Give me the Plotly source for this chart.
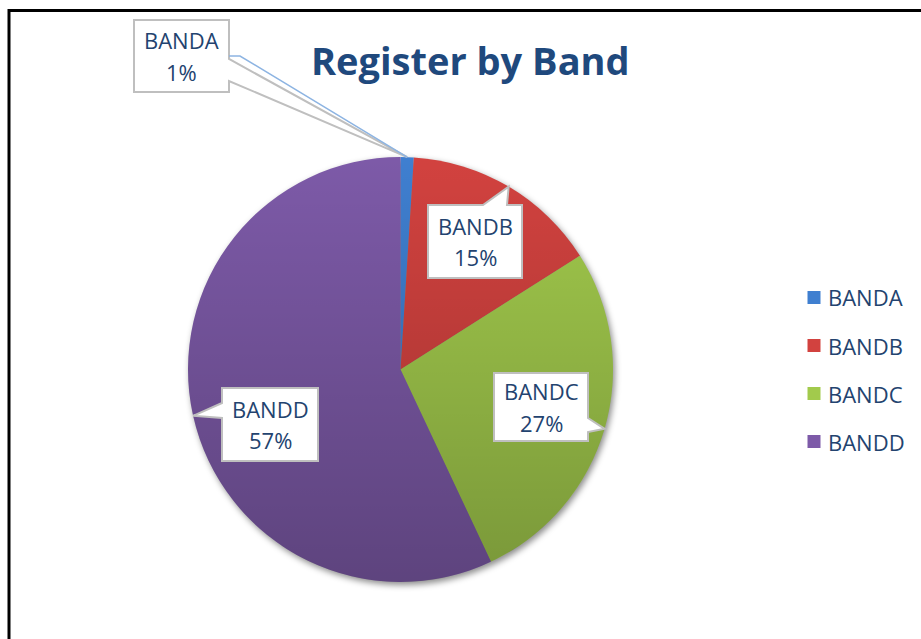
import base64
import math

import plotly.graph_objects as go

# ---- data -------------------------------------------------------------
bands = ["BANDA", "BANDB", "BANDC", "BANDD"]
shares = [1, 15, 27, 57]
slice_colors = ["#3F7FD0", "#D2423F", "#A2CA4C", "#7D5AA8"]
chart_title = "Register by Band"

# ---- canvas / geometry (pixels) ----------------------------------------
W, H = 921, 639
CX, CY, R = 400.5, 369.5, 212.5          # pie centre and radius
TEXT_BLUE = "#23436F"
FONT = "Open Sans"


def fx(x):
    return x / W


def fy(y):
    return 1 - y / H


fig = go.Figure(
    go.Pie(
        labels=bands,
        values=shares,
        sort=False,
        direction="clockwise",
        rotation=0,
        marker=dict(colors=slice_colors, line=dict(width=0)),
        textinfo="none",
        hoverinfo="label+percent",
        showlegend=False,
        domain=dict(x=[fx(CX - R), fx(CX + R)], y=[fy(CY + R), fy(CY - R)]),
    )
)

# ---- soft shadow under the pie and vertical shading over it ------------
PAD = 20
SIZE = 2 * R + 2 * PAD


def svg_uri(svg):
    return "data:image/svg+xml;base64," + base64.b64encode(svg.encode()).decode()


shadow_svg = (
    f'<svg xmlns="http://www.w3.org/2000/svg" width="{SIZE}" height="{SIZE}" '
    f'viewBox="0 0 {SIZE} {SIZE}">'
    '<defs><filter id="b" x="-20%" y="-20%" width="140%" height="140%">'
    '<feGaussianBlur stdDeviation="3"/></filter></defs>'
    f'<circle cx="{PAD + R + 2}" cy="{PAD + R + 3}" r="{R}" fill="#000" '
    'fill-opacity="0.45" filter="url(#b)"/></svg>'
)
shade_svg = (
    f'<svg xmlns="http://www.w3.org/2000/svg" width="{SIZE}" height="{SIZE}" '
    f'viewBox="0 0 {SIZE} {SIZE}">'
    '<defs><linearGradient id="g" x1="0" y1="0" x2="0" y2="1">'
    '<stop offset="0" stop-color="#000" stop-opacity="0"/>'
    '<stop offset="1" stop-color="#000" stop-opacity="0.25"/>'
    '</linearGradient></defs>'
    f'<circle cx="{PAD + R}" cy="{PAD + R}" r="{R}" fill="url(#g)"/></svg>'
)
img_common = dict(
    xref="paper", yref="paper",
    x=fx(CX - R - PAD), y=fy(CY - R - PAD),
    sizex=SIZE / W, sizey=SIZE / H,
    xanchor="left", yanchor="top", sizing="stretch",
)
images = [
    dict(source=svg_uri(shadow_svg), layer="below", **img_common),
    dict(source=svg_uri(shade_svg), layer="above", **img_common),
]

# ---- callout boxes pointing at each slice -------------------------------
callouts = {
    "BANDA": dict(box=(134, 20, 229, 92), side="right", base=(59, 81)),
    "BANDB": dict(box=(428, 205, 522, 278), side="top", base=(483, 507)),
    "BANDC": dict(box=(494, 373, 588, 441), side="right", base=(418, 432)),
    "BANDD": dict(box=(222, 388, 318, 461), side="left", base=(403, 418)),
}

total = sum(shares)
shapes = []
annotations = []
cum = 0
for band, v in zip(bands, shares):
    mid = 2 * math.pi * (cum + v / 2) / total
    cum += v
    tip = (CX + R * math.sin(mid), CY - R * math.cos(mid))

    c = callouts[band]
    x0, y0, x1, y1 = c["box"]
    b0, b1 = c["base"]
    if c["side"] == "top":
        pts = [(x0, y0), (b0, y0), tip, (b1, y0), (x1, y0), (x1, y1), (x0, y1)]
    elif c["side"] == "right":
        pts = [(x0, y0), (x1, y0), (x1, b0), tip, (x1, b1), (x1, y1), (x0, y1)]
    else:
        pts = [(x0, y0), (x1, y0), (x1, y1), (x0, y1), (x0, b1), tip, (x0, b0)]
    path = "M " + " L ".join(f"{fx(px):.5f},{fy(py):.5f}" for px, py in pts) + " Z"
    shapes.append(dict(type="path", xref="paper", yref="paper", path=path,
                       fillcolor="white", line=dict(color="#BFBFBF", width=2),
                       layer="above"))

    if band == "BANDA":
        lead = [(x1, 56), (x1 + 11, 56), tip]
        lpath = "M " + " L ".join(f"{fx(px):.5f},{fy(py):.5f}" for px, py in lead)
        shapes.append(dict(type="path", xref="paper", yref="paper", path=lpath,
                           line=dict(color="#8DB4E2", width=1.5), layer="above"))

    bx, by = (x0 + x1) / 2, (y0 + y1) / 2
    pct = f"{round(v / total * 100)}%"
    for txt, dy in ((band, -15.7), (pct, 15.7)):
        annotations.append(dict(
            x=fx(bx), y=fy(by + dy), xref="paper", yref="paper",
            text=txt, showarrow=False, xanchor="center", yanchor="middle",
            font=dict(family=FONT, size=22, color=TEXT_BLUE),
        ))

# ---- legend --------------------------------------------------------------
LEG_X, LEG_Y0, LEG_STEP, SQ = 807.5, 297.5, 48, 13
for i, (band, col) in enumerate(zip(bands, slice_colors)):
    yc = LEG_Y0 + i * LEG_STEP
    shapes.append(dict(type="rect", xref="paper", yref="paper",
                       x0=fx(LEG_X), x1=fx(LEG_X + SQ),
                       y0=fy(yc + SQ / 2), y1=fy(yc - SQ / 2),
                       fillcolor=col, line=dict(width=0), layer="above"))
    annotations.append(dict(
        x=fx(826), y=fy(yc), xref="paper", yref="paper", text=band,
        showarrow=False, xanchor="left", yanchor="middle",
        font=dict(family=FONT, size=22, color=TEXT_BLUE),
    ))

# ---- title ---------------------------------------------------------------
annotations.append(dict(
    x=fx(470), y=fy(60), xref="paper", yref="paper", text=chart_title,
    showarrow=False, xanchor="center", yanchor="middle",
    font=dict(family=FONT, size=38, color="#1F497D", weight=700),
))

# ---- chart-area frame ----------------------------------------------------
shapes.append(dict(type="rect", xref="paper", yref="paper",
                   x0=fx(9), y0=-0.1, x1=1.1, y1=fy(10.5),
                   line=dict(color="black", width=3), layer="above"))

fig.update_layout(
    width=W, height=H, autosize=False,
    margin=dict(l=0, r=0, t=0, b=0),
    paper_bgcolor="white", plot_bgcolor="white",
    showlegend=False,
    shapes=shapes, annotations=annotations, images=images,
)

fig.write_html("out.html", config={"displayModeBar": False})
